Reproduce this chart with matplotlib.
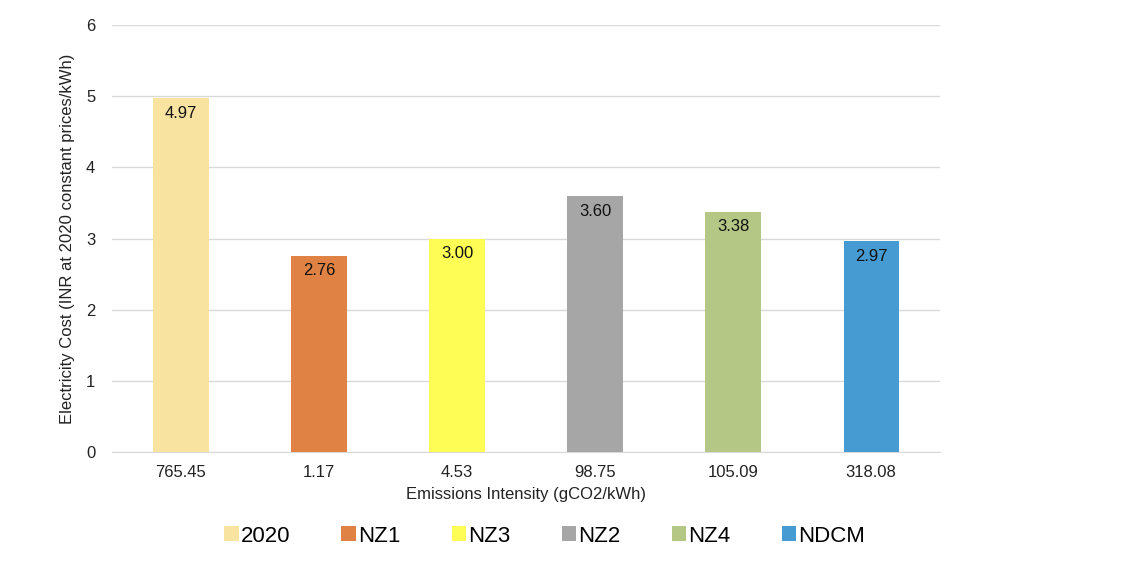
import numpy as np
import matplotlib
matplotlib.use('Agg')
import matplotlib.pyplot as plt
from matplotlib.patches import Patch

plt.rcParams['font.family'] = ['Liberation Sans', 'DejaVu Sans']

# data
scenarios = ['2020', 'NZ1', 'NZ3', 'NZ2', 'NZ4', 'NDCM']
intensity = ['765.45', '1.17', '4.53', '98.75', '105.09', '318.08']
cost = [4.97, 2.76, 3.00, 3.60, 3.38, 2.97]
colors = ['#F9E3A1', '#DF8243', '#FDFD55', '#A6A6A6', '#B4C785', '#469CD2']

fig = plt.figure(figsize=(11.3, 5.66), dpi=100)
ax = fig.add_axes([0.099, 0.201, 0.733, 0.755])

x = np.arange(len(scenarios))
bars = ax.bar(x, cost, width=0.4, color=colors, zorder=3)
for xi, v in zip(x, cost):
    ax.text(xi, v - 0.11, '{:.2f}'.format(v), ha='center', va='top', fontsize=12, color='#111111', zorder=4)

ax.set_xlim(-0.5, len(scenarios) - 0.5)
ax.set_ylim(0, 6)
ax.set_yticks(range(7))
ax.set_xticks(x)
ax.set_xticklabels(intensity)
ax.tick_params(axis='both', length=0, labelsize=12, colors='#222222')
ax.tick_params(axis='x', pad=9)
ax.tick_params(axis='y', pad=12)
ax.grid(axis='y', color='#D9D9D9', linewidth=1, zorder=0)
for s in ['top', 'right', 'left']:
    ax.spines[s].set_visible(False)
ax.spines['bottom'].set_color('#D9D9D9')
ax.set_xlabel('Emissions Intensity (gCO2/kWh)', fontsize=12, color='#222222', labelpad=5)
ax.set_ylabel('Electricity Cost (INR at 2020 constant prices/kWh)', fontsize=12, color='#222222', labelpad=8)

handles = [Patch(facecolor=c) for c in colors]
fig.legend(handles, scenarios, loc='center', bbox_to_anchor=(0.482, 0.053), ncol=6, frameon=False,
           fontsize=16, handlelength=0.65, handleheight=0.65, handletextpad=0.1, columnspacing=2.3)

fig.savefig('out.png', dpi=100)
